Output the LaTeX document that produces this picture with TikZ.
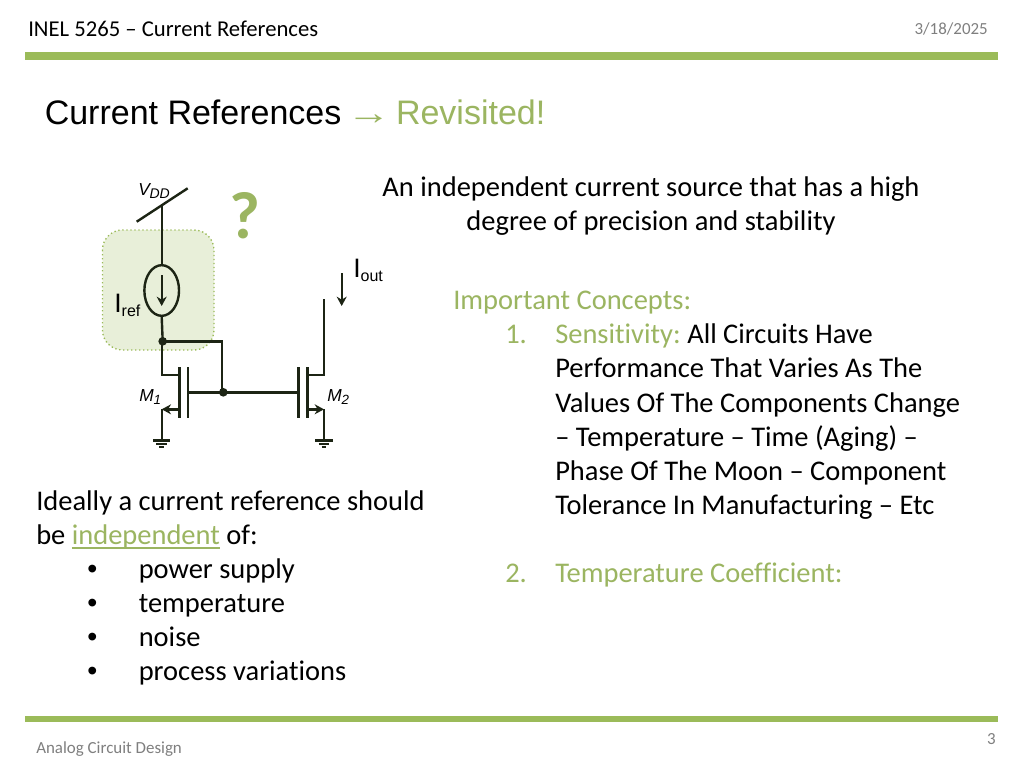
\documentclass[tikz,border=0pt]{standalone}
\usepackage{fontspec}
\setmainfont[RawFeature={-liga;-clig}]{Carlito}
\newfontfamily\arialf{Liberation Sans}
\newfontfamily\timesf{Liberation Serif}
\usetikzlibrary{arrows.meta,shapes.geometric}
\definecolor{slidegreen}{HTML}{9BBB59}
\definecolor{textgreen}{HTML}{9BB561}
\definecolor{boxfill}{HTML}{E8EFD9}
\definecolor{graytext}{HTML}{7F7F7F}
\definecolor{wirec}{HTML}{1C2414}
\newcommand{\greenul}[1]{\setbox0\hbox{#1}\rlap{\rule[-3.6pt]{\wd0}{1pt}}\box0}
\tikzset{
  body/.style={inner sep=0pt,anchor=base west,font=\fontsize{21.36}{25}\selectfont},
  bodyg/.style={body,text=textgreen},
  bodyc/.style={body,anchor=base},
  bul/.style={body,font=\arialf\fontsize{21.36}{25}\selectfont},
  wire/.style={line width=1.8pt,draw=wirec,line join=miter},
  arrowwire/.style={wire,-{Stealth[length=7pt,width=7.5pt]}},
  bar/.style={fill=slidegreen,draw=none},
  dotn/.style={circle,fill=wirec,inner sep=0pt,minimum size=6.5pt},
  gndl/.style={line width=1.6pt,draw=wirec},
  small/.style={inner sep=0pt,font=\fontsize{12.7}{15}\selectfont,text=graytext},
  circ/.style={inner sep=0pt,anchor=base west,font=\arialf\fontsize{#1}{20}\selectfont}
}
\newcommand{\gndsym}[1]{%
  \draw[gndl] ([xshift=-6.4pt]#1) -- ([xshift=6.4pt]#1)
    ([xshift=-4pt,yshift=-2.5pt]#1) -- ([xshift=4pt,yshift=-2.5pt]#1)
    ([xshift=-1.8pt,yshift=-5pt]#1) -- ([xshift=1.8pt,yshift=-5pt]#1);}
\begin{document}
\begin{tikzpicture}[x=0.75pt,y=-0.75pt]
\useasboundingbox (0,0) rectangle (1024,768);
\fill[white] (0,0) rectangle (1024,768);
% bars
\fill[bar] (25,52) rectangle (998,60);
\fill[bar] (25,716) rectangle (998,722);
% header and footer
\node[inner sep=0pt,anchor=base west,font=\fontsize{17}{20}\selectfont] (head) at (28,36.5) {INEL 5265 – Current References};
\node[small,anchor=base east] (date) at (988,34) {3/18/2025};
\node[small,anchor=base west] (foot) at (36,753.5) {Analog Circuit Design};
\node[small,anchor=base east] (page) at (996,744) {3};
% title
\node[inner sep=0pt,anchor=base west,font=\arialf\fontsize{25.5}{30}\selectfont] (title) at (44.5,124) {Current References {\color{textgreen}\hspace{-3.2pt}\scalebox{1.3}[1]{\timesf →}\hspace{-3.2pt} Revisited!}};
% highlight
\draw[fill=boxfill,draw=slidegreen,line width=1pt,dotted,rounded corners=15pt] (102.5,230) rectangle (214,350);
% circuit
\coordinate (vl) at (136.7,221.7);
\coordinate (vr) at (187.7,188.3);
\coordinate (vt) at (161.7,205);
\node[draw=wirec,line width=1.8pt,ellipse,minimum width=26pt,minimum height=38pt,inner sep=0pt] (src) at (161.7,290.5) {};
\node[dotn] (d1) at (162.7,341.3) {};
\node[dotn] (d2) at (223.3,392.3) {};
\coordinate (m1dt) at (179.3,375);
\coordinate (m1st) at (179.3,409.3);
\coordinate (m1dw) at (161.7,375);
\coordinate (m1sw) at (161.7,409.3);
\coordinate (g1) at (161.7,440.5);
\coordinate (m2dt) at (307.3,375);
\coordinate (m2st) at (307.3,409.3);
\coordinate (m2dw) at (324,375);
\coordinate (m2sw) at (324,409.3);
\coordinate (m2top) at (324,299.3);
\coordinate (g2) at (324,440.5);
\draw[wire] (vl) -- (vr);
\draw[wire] (vt) -- (src.north);
\draw[wire] (src.south) -- (d1.center);
\draw[arrowwire] (161.7,275) -- (161.7,306);
\draw[wire] (d1.center) -- (221.7,341.3) -- (221.7,392.3);
\draw[wire] (d1.center -| m1dw) -- (m1dw) -- (m1dt);
% M1
\draw[wire] (179.3,367.3) -- (179.3,418.3);
\draw[wire] (187.7,367.3) -- (187.7,418.3);
\draw[wire] (187.7,392.3) -- (d2.center) -- (298.3,392.3);
\draw[arrowwire] (m1st) -- (m1sw);
\draw[wire] (m1sw) -- (g1);
\gndsym{g1}
% M2
\draw[wire] (298.3,367.3) -- (298.3,418.3);
\draw[wire] (307.3,367.3) -- (307.3,418.3);
\draw[wire] (m2dt) -- (m2dw) -- (m2top);
\draw[arrowwire] (m2st) -- (m2sw);
\draw[wire] (m2sw) -- (g2);
\gndsym{g2}
% Iout arrow
\coordinate (ia) at (341.7,273.3);
\coordinate (ib) at (341.7,306);
\draw[arrowwire] (ia) -- (ib);
% circuit labels
\node[circ=13] (vdd) at (138,195) {\textit{V}\hspace{-1.2pt}\raisebox{-2.4pt}{\fontsize{10.5}{11}\selectfont\textit{DD}}};
\node[circ=20] (iref) at (114,312) {I\raisebox{-3pt}{\fontsize{12}{13}\selectfont ref}};
\node[circ=20] (iout) at (353,277) {I\raisebox{-3pt}{\fontsize{12}{13}\selectfont out}};
\node[circ=13] (m1) at (139,401) {\textit{M}\raisebox{-2.4pt}{\fontsize{10}{11}\selectfont\textit{1}}};
\node[circ=13] (m2) at (327,401) {\textit{M}\raisebox{-2.4pt}{\fontsize{10}{11}\selectfont\textit{2}}};
\node[inner sep=0pt,font=\bfseries\fontsize{50}{54}\selectfont,text=textgreen] (qm) at (244.5,216) {?};
% body right
\node[bodyc] (r1) at (651,196.5) {An independent current source that has a high};
\node[bodyc] (r2) at (651,230.5) {degree of precision and stability};
\node[bodyg] (c0) at (453,309.5) {Important Concepts:};
\node[bodyg] (n1) at (505,343.5) {1.};
\node[body] (c1) at (555,343.5) {{\color{textgreen}Sensitivity:}\hspace{-1.5pt} All Circuits Have};
\node[body] (c2) at (555,377.5) {Performance That Varies As The};
\node[body] (c3) at (555,412) {Values Of The Components Change};
\node[body] (c4) at (555,446) {– Temperature – Time (Aging) –};
\node[body] (c5) at (555,480) {Phase Of The Moon – Component};
\node[body] (c6) at (555,514) {Tolerance In Manufacturing – Etc};
\node[bodyg] (n2) at (505,582) {2.};
\node[bodyg] (c7) at (555,582) {Temperature Coefficient:};
% body left
\node[body] (l1) at (36,510) {Ideally a current reference should};
\node[body] (l2) at (36,544) {be {\color{textgreen}\greenul{independent}} of:};
\node[bul] (b1) at (87,578) {•};
\node[body] (l3) at (138.5,578) {power supply};
\node[bul] (b2) at (87,612) {•};
\node[body] (l4) at (138.5,612) {temperature};
\node[bul] (b3) at (87,646) {•};
\node[body] (l5) at (138.5,646) {noise};
\node[bul] (b4) at (87,680) {•};
\node[body] (l6) at (138.5,680) {process variations};
\end{tikzpicture}
\end{document}
